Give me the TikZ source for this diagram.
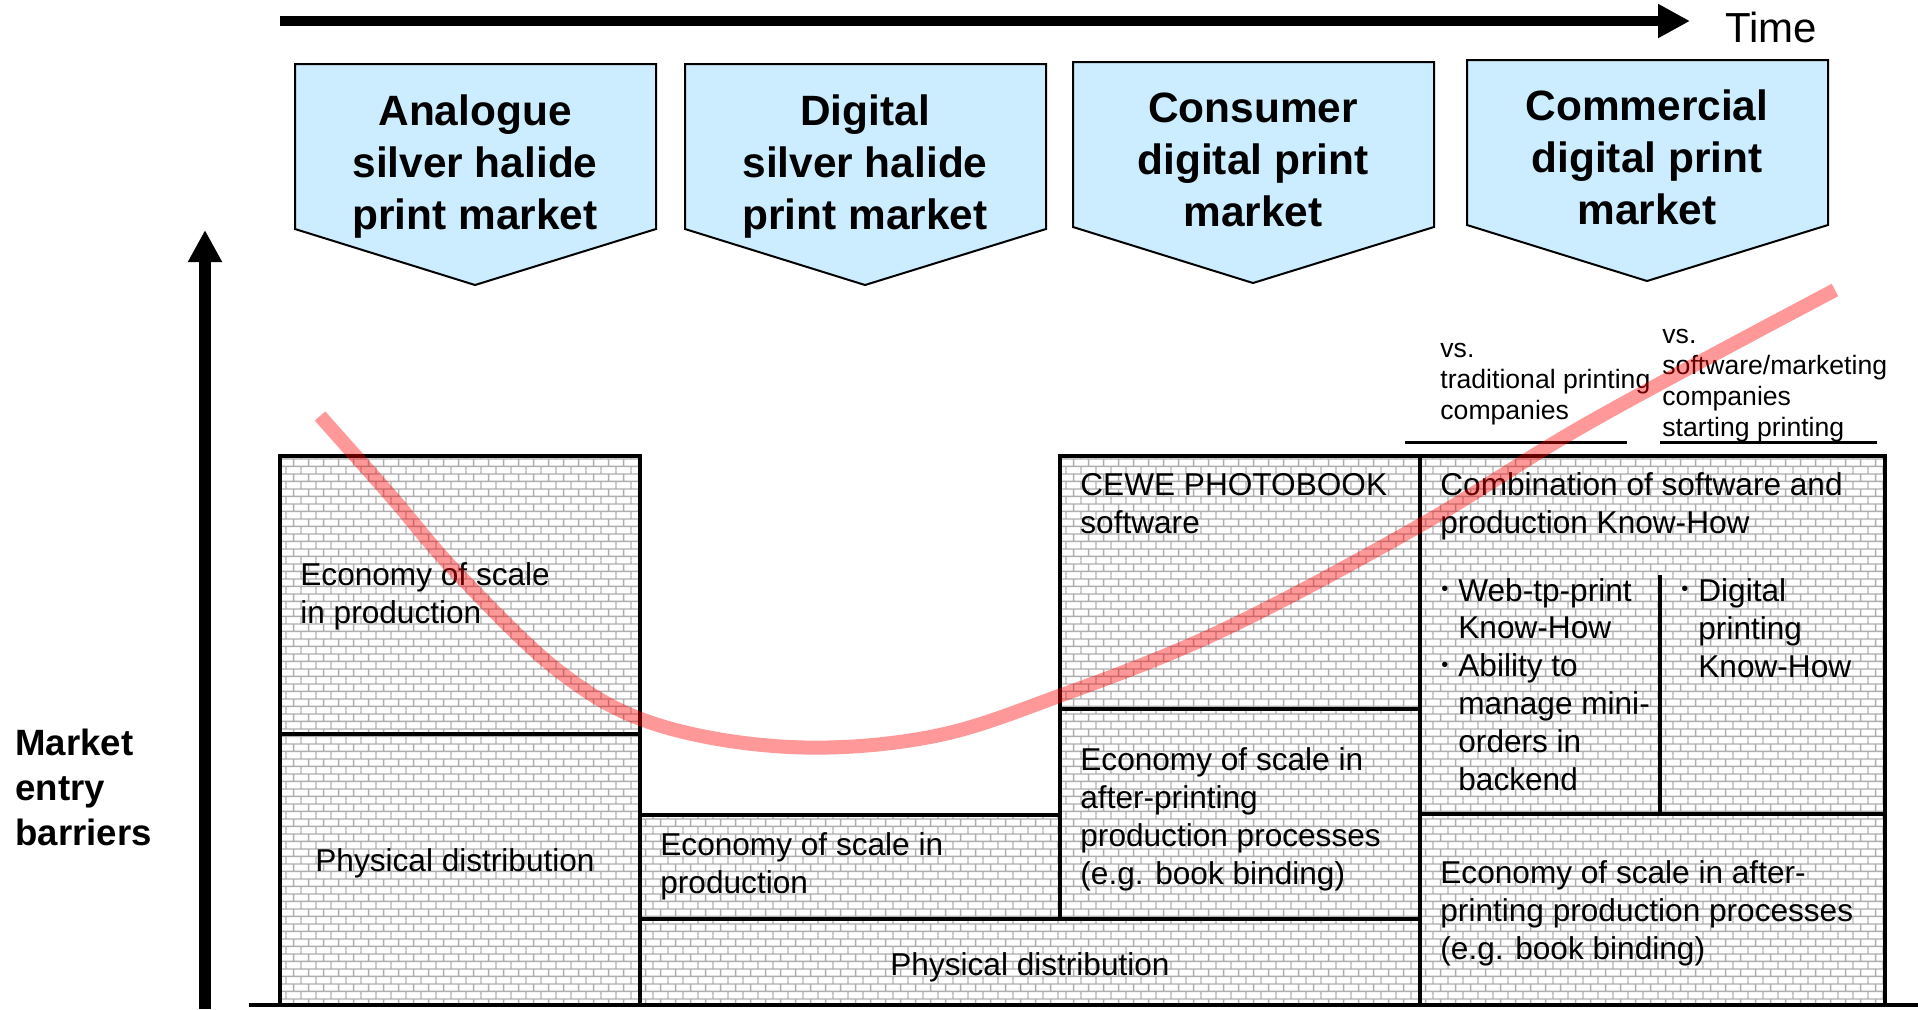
\documentclass[tikz,border=0pt]{standalone}
\usepackage{fontspec}
\setmainfont{Liberation Sans}
\usetikzlibrary{arrows.meta,patterns.meta}
\definecolor{brickline}{HTML}{AEAEAE}
\definecolor{headblue}{HTML}{CCECFF}
\pgfdeclarepattern{
  name=smallbricks,
  type=colored,
  bottom left={\pgfqpoint{0pt}{0pt}},
  top right={\pgfqpoint{7.65pt}{7.65pt}},
  tile size={\pgfqpoint{7.65pt}{7.65pt}},
  code={
    \pgfsetlinewidth{0.75pt}
    \pgfsetstrokecolor{brickline}
    \pgfpathmoveto{\pgfqpoint{0pt}{1.9125pt}}\pgfpathlineto{\pgfqpoint{7.65pt}{1.9125pt}}
    \pgfpathmoveto{\pgfqpoint{0pt}{5.7375pt}}\pgfpathlineto{\pgfqpoint{7.65pt}{5.7375pt}}
    \pgfpathmoveto{\pgfqpoint{1.9125pt}{1.9125pt}}\pgfpathlineto{\pgfqpoint{1.9125pt}{5.7375pt}}
    \pgfpathmoveto{\pgfqpoint{5.7375pt}{5.7375pt}}\pgfpathlineto{\pgfqpoint{5.7375pt}{7.65pt}}
    \pgfpathmoveto{\pgfqpoint{5.7375pt}{0pt}}\pgfpathlineto{\pgfqpoint{5.7375pt}{1.9125pt}}
    \pgfusepath{stroke}
  }
}
\tikzset{
  boxtext/.style={font=\fontsize{15.8pt}{18.9pt}\selectfont, align=left, inner sep=0pt, anchor=base west},
  centertext/.style={font=\fontsize{15.8pt}{18.9pt}\selectfont, inner sep=0pt, anchor=base},
  headtext/.style={font=\bfseries\fontsize{21.2pt}{26pt}\selectfont, align=center, inner sep=0pt, anchor=base},
  vstext/.style={font=\fontsize{13.3pt}{15.5pt}\selectfont, align=left, inner sep=0pt, anchor=base west},
  sidetext/.style={font=\bfseries\fontsize{18.3pt}{22.5pt}\selectfont, align=left, inner sep=0pt, anchor=base west},
  timetext/.style={font=\fontsize{21pt}{25pt}\selectfont, inner sep=0pt, anchor=base west},
  bul/.style={font=\fontsize{10pt}{10pt}\selectfont, inner sep=0pt, anchor=base west},
  bricks/.style={pattern=smallbricks},
  boxline/.style={line width=2pt, line join=miter},
  thinline/.style={line width=1.5pt},
  pent/.style={fill=headblue, draw=black, line width=1pt, line join=miter},
  axis/.style={line width=#1, -{Triangle[length=16pt, width=16pt]}},
  redcurve/.style={draw=red, draw opacity=0.4, line width=7pt}
}
\begin{document}
\begin{tikzpicture}[x=0.5pt,y=-0.5pt]
\useasboundingbox (0,0) rectangle (1918,1009);
\fill[white] (0,0) rectangle (1918,1009);

% brick fills
\fill[bricks] (280,456) rectangle (640,1005);
\fill[bricks] (640,815) rectangle (1060,1005);
\fill[bricks] (1060,456) rectangle (1420,1005);
\fill[bricks] (1420,456) rectangle (1885,1005);

% header pentagons
\draw[pent] (295,64) -- (656,64) -- (656,229) -- (475,285) -- (295,229) -- cycle;
\draw[pent] (685,64) -- (1046,64) -- (1046,229) -- (865,285) -- (685,229) -- cycle;
\draw[pent] (1073,62) -- (1434,62) -- (1434,227) -- (1253,283) -- (1073,227) -- cycle;
\draw[pent] (1467,60) -- (1828,60) -- (1828,225) -- (1647,281) -- (1467,225) -- cycle;
\node[headtext] (h1) at (475,229) {Analogue\\silver halide\\print market};
\node[headtext] (h2) at (865,229) {Digital\\silver halide\\print market};
\node[headtext] (h3) at (1253,226) {Consumer\\digital print\\market};
\node[headtext] (h4) at (1647,224) {Commercial\\digital print\\market};

% box borders
\draw[boxline] (280,456) rectangle (640,1005);
\draw[boxline] (280,734) -- (640,734);
\draw[boxline] (640,815) rectangle (1060,919);
\draw[boxline] (640,919) rectangle (1420,1005);
\draw[boxline] (1060,456) rectangle (1420,919);
\draw[boxline] (1060,709) -- (1420,709);
\draw[boxline] (1420,456) rectangle (1885,1005);
\draw[boxline] (1420,814) -- (1885,814);
\draw[boxline] (1660,575) -- (1660,814);
\coordinate (base0) at (249,1005);
\coordinate (base1) at (1918,1005);
\draw[boxline] (base0) -- (base1);

% box texts (anchor = baseline of last line)
\node[boxtext] (e1) at (300,623) {Economy of scale\\in production};
\node[centertext] (p1) at (455,871) {Physical distribution};
\node[boxtext] (e2) at (660,893) {Economy of scale in\\production};
\node[centertext] (p2) at (1030,975) {Physical distribution};
\node[boxtext] (cewe) at (1080,533) {CEWE PHOTOBOOK\\software};
\node[boxtext] (e3) at (1080,884) {Economy of scale in\\after-printing\\production processes\\(e.g. book binding)};
\node[boxtext] (comb) at (1440,533) {Combination of software and\\production Know-How};
\node[bul] (b1) at (1441,601) {\raisebox{3pt}{•}};
\node[bul] (b2) at (1441,677) {\raisebox{3pt}{•}};
\node[boxtext] (wtp) at (1458,790) {Web-tp-print\\Know-How\\Ability to\\manage mini-\\orders in\\backend};
\node[bul] (b3) at (1681,601) {\raisebox{3pt}{•}};
\node[boxtext] (dp) at (1698,677) {Digital\\printing\\Know-How};
\node[boxtext] (e4) at (1440,959) {Economy of scale in after-\\printing production processes\\(e.g. book binding)};

% vs. labels
\node[vstext] (vs1) at (1440,419) {vs.\\traditional printing\\companies};
\node[vstext] (vs2) at (1662,436) {vs.\\software/marketing\\companies\\starting printing};
\coordinate (u1a) at (1405,442);
\coordinate (u1b) at (1627,442);
\coordinate (u2a) at (1660,442);
\coordinate (u2b) at (1877,442);
\draw[thinline] (u1a) -- (u1b);
\draw[thinline] (u2a) -- (u2b);

% axes
\coordinate (t0) at (280,21);
\coordinate (t1) at (1690,21);
\draw[axis=5pt] (t0) -- (t1);
\node[timetext] (time) at (1725,42) {Time};
\coordinate (v0) at (205,1009);
\coordinate (v1) at (205,230);
\draw[axis=6pt] (v0) -- (v1);
\node[sidetext] (meb) at (15,845) {Market\\entry\\barriers};

% red curve
\draw[redcurve] plot[smooth, tension=0.6] coordinates {(320,416) (390,495) (458,574) (560,672) (655,724) (790,747) (930,737) (1059,696) (1223,630) (1419,526) (1590,422) (1835,290)};
\end{tikzpicture}
\end{document}
